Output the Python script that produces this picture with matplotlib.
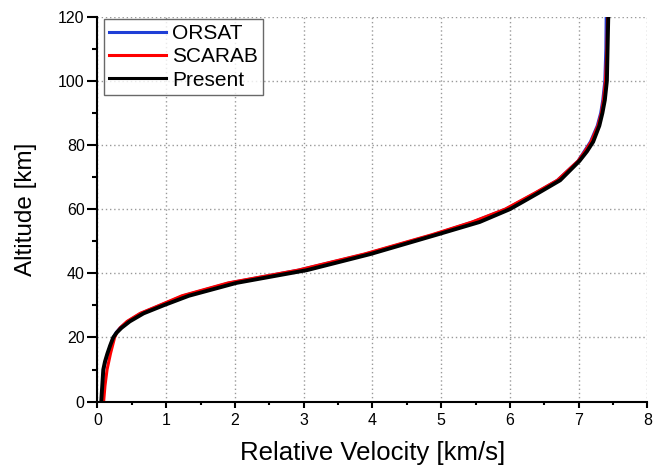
import matplotlib
matplotlib.use("Agg")
import matplotlib.pyplot as plt
from matplotlib.ticker import MultipleLocator

plt.rcParams['font.family'] = ['Liberation Sans', 'DejaVu Sans']

# altitude grid shared by the three trajectories [km]
altitude = [0, 5, 10, 12.5, 15, 17.5, 20, 21.5, 23, 25, 27.5, 30, 33, 37,
            41, 46, 52, 56, 60, 65, 69, 75, 78, 81, 86, 90, 94, 100, 110, 120]

# relative velocity [km/s]
vel_present = [0.055, 0.07, 0.085, 0.11, 0.145, 0.185, 0.23, 0.28, 0.35, 0.47,
               0.67, 0.96, 1.33, 2.02, 3.05, 3.97, 4.93, 5.56, 6.0, 6.41,
               6.73, 7.01, 7.12, 7.21, 7.30, 7.345, 7.38, 7.41, 7.42, 7.43]
vel_scarab = [0.09, 0.11, 0.14, 0.165, 0.19, 0.22, 0.25, 0.28, 0.33, 0.43,
              0.62, 0.9, 1.23, 1.9, 2.92, 3.88, 4.86, 5.45, 5.93, 6.36,
              6.69, 6.99, 7.09, 7.18, 7.28, 7.33, 7.36, 7.39, 7.41, 7.42]
vel_orsat = [0.06, 0.075, 0.09, 0.115, 0.15, 0.19, 0.23, 0.27, 0.33, 0.44,
             0.63, 0.91, 1.25, 1.92, 2.93, 3.9, 4.88, 5.46, 5.94, 6.37,
             6.69, 6.99, 7.08, 7.17, 7.27, 7.32, 7.35, 7.38, 7.395, 7.40]

fig = plt.figure(figsize=(6.54, 4.70), dpi=100)
ax = fig.add_axes([0.149, 0.1455, 0.841, 0.819])

ax.plot(vel_orsat, altitude, color='#1f3fd6', lw=2.2, label='ORSAT')
ax.plot(vel_scarab, altitude, color='#ff0000', lw=2.2, label='SCARAB')
ax.plot(vel_present, altitude, color='black', lw=2.8, label='Present')

ax.set_xlim(0, 8)
ax.set_ylim(0, 120)
ax.xaxis.set_major_locator(MultipleLocator(1))
ax.xaxis.set_minor_locator(MultipleLocator(0.5))
ax.yaxis.set_major_locator(MultipleLocator(20))
ax.yaxis.set_minor_locator(MultipleLocator(10))

ax.spines['top'].set_visible(False)
ax.spines['right'].set_visible(False)
for s in ('left', 'bottom'):
    ax.spines[s].set_linewidth(1.5)

ax.tick_params(axis='x', which='major', length=4.5, width=1.5, labelsize=11.5, pad=4)
ax.tick_params(axis='x', which='minor', length=2.3, width=1.5)
ax.tick_params(axis='y', which='major', length=7.2, width=1.5, labelsize=11.5, pad=2)
ax.tick_params(axis='y', which='minor', length=3.4, width=1.5)

ax.grid(True, which='major', linestyle=(0, (1, 2)), color='#999999', lw=1.0)
# no grid line on the axis limits
xg = ax.xaxis.get_gridlines()
xg[0].set_visible(False)
xg[-1].set_visible(False)
yg = ax.yaxis.get_gridlines()
yg[0].set_visible(False)
yg[-1].set_visible(False)
ax.set_axisbelow(True)

ax.set_xlabel('Relative Velocity [km/s]', fontsize=18.5, labelpad=9)
ax.set_ylabel('Altitude [km]', fontsize=17.5, labelpad=15)

leg = ax.legend(loc='upper left', bbox_to_anchor=(0.012, 0.994), borderaxespad=0,
                fontsize=15, frameon=True, fancybox=False,
                edgecolor='#444444', handlelength=2.7, handletextpad=0.3,
                labelspacing=0.2, borderpad=0.25)
leg.get_frame().set_linewidth(1.0)
for ln in leg.get_lines():
    ln.set_linewidth(2.2)

fig.savefig('out.png', dpi=100)
